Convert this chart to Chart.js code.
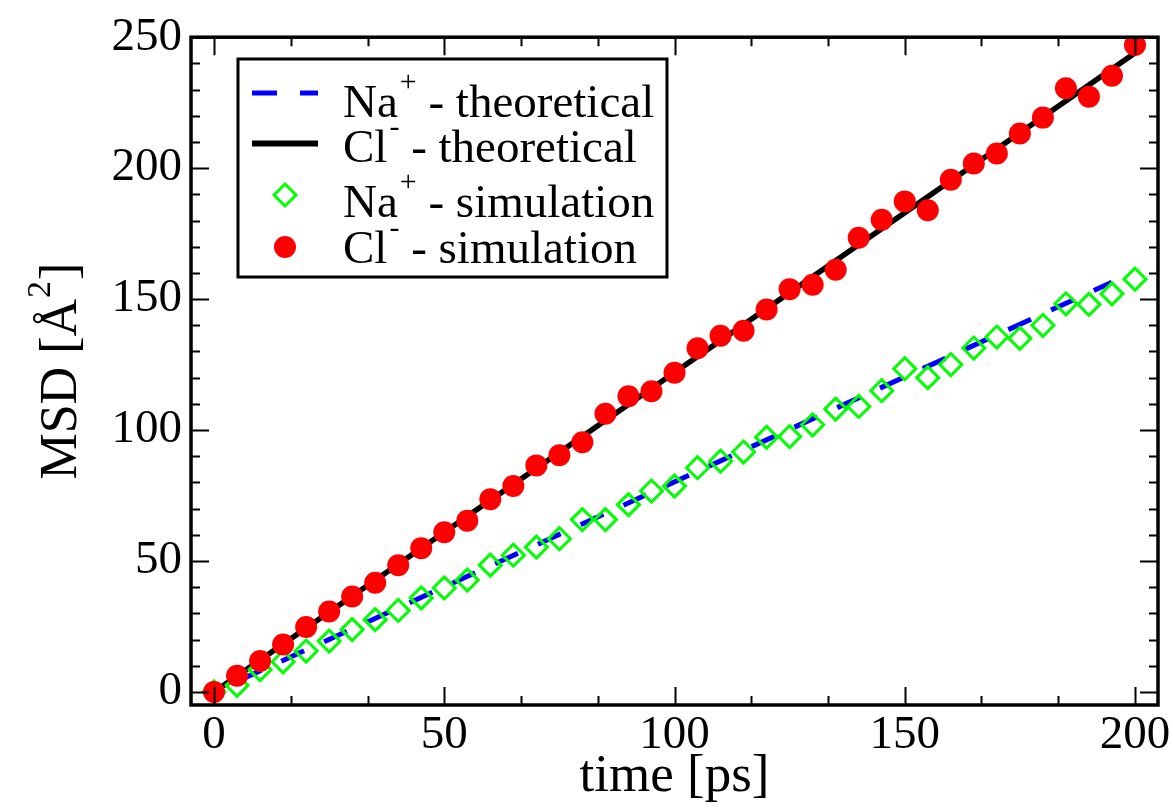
<!DOCTYPE html>
<html>
<head>
<meta charset="utf-8">
<script src="https://cdn.jsdelivr.net/npm/chart.js@4.4.1/dist/chart.umd.min.js"></script>
<style>
  body { margin: 0; background: #fff; }
  #wrap { width: 1173px; height: 810px; }
</style>
</head>
<body>
<div id="wrap"><canvas id="msdChart" width="1173" height="810"></canvas></div>
<script>
// DATA
const times = [0, 5, 10, 15, 20, 25, 30, 35, 40, 45, 50, 55, 60, 65, 70, 75, 80, 85, 90, 95, 100,
  105, 110, 115, 120, 125, 130, 135, 140, 145, 150, 155, 160, 165, 170, 175, 180, 185, 190, 195, 200];
const clSim = [0, 6.2, 11.8, 18.1, 24.8, 30.7, 36.4, 41.7, 48.4, 54.9, 61.0, 65.4, 73.6, 78.6, 86.5, 90.4,
  95.3, 106.2, 112.9, 114.8, 121.9, 131.2, 136.0, 137.9, 146.0, 153.8, 155.5, 161.2, 173.4, 180.3, 187.3,
  183.9, 195.6, 201.8, 205.6, 213.2, 219.3, 230.5, 227.3, 235.3, 247.0];
const naSim = [0, 2.5, 8.5, 11.5, 15.6, 19.4, 23.8, 27.6, 31.1, 35.9, 39.7, 42.7, 48.4, 52.2, 55.3, 58.5,
  65.8, 65.8, 71.5, 76.7, 78.6, 85.6, 88.1, 91.6, 97.2, 97.5, 102.0, 108.0, 109.0, 115.0, 123.4,
  120.0, 125.0, 131.3, 135.5, 135.0, 140.0, 148.2, 148.0, 152.0, 157.6];
const clTheoryT = [0, 200];
const clTheory = [0, 244];
const naTheoryT = [0, 195];
const naTheory = [0, 156.4];

const xTicks = [0, 50, 100, 150, 200];
const yTicks = [0, 50, 100, 150, 200, 250];

const xTitle = 'time [ps]';
const yTitle = { main: 'MSD [Å', sup: '2', tail: ']' };

const legendRows = [
  { main: 'Na', sup: '+', rest: ' - theoretical', kind: 'dash' },
  { main: 'Cl', sup: '-', rest: ' - theoretical', kind: 'line' },
  { main: 'Na', sup: '+', rest: ' - simulation', kind: 'diamond' },
  { main: 'Cl', sup: '-', rest: ' - simulation', kind: 'circle' }
];

const SERIF = '"Liberation Serif", "Times New Roman", serif';
Chart.defaults.font.family = SERIF;
Chart.defaults.color = '#000';

function pts(xs, ys) {
  return xs.map((x, i) => ({ x: x, y: ys[i] }));
}

// frame + inward ticks on all four sides
const framePlugin = {
  id: 'frame',
  afterDatasetsDraw(chart) {
    const { ctx, chartArea: a, scales: { x, y } } = chart;
    ctx.save();
    ctx.strokeStyle = '#000';
    ctx.lineWidth = 2;
    ctx.beginPath();
    for (let i = 0; i <= 12; i++) {
      const v = i * 50 / 3;
      const px = Math.round(x.getPixelForValue(v)) + 0.5;
      const len = (i % 3 === 0) ? 18 : 9;
      ctx.moveTo(px, a.bottom); ctx.lineTo(px, a.bottom - len);
      ctx.moveTo(px, a.top); ctx.lineTo(px, a.top + len);
    }
    for (let v = 0; v <= 250; v += 10) {
      const py = Math.round(y.getPixelForValue(v)) + 0.5;
      const len = (v % 50 === 0) ? 18 : 9;
      ctx.moveTo(a.left, py); ctx.lineTo(a.left + len, py);
      ctx.moveTo(a.right, py); ctx.lineTo(a.right - len, py);
    }
    ctx.stroke();
    ctx.lineWidth = 3.5;
    ctx.strokeRect(a.left, a.top, a.right - a.left, a.bottom - a.top);
    ctx.restore();
  }
};

// y title with a real superscript, rotated
const yTitlePlugin = {
  id: 'yTitle',
  afterDraw(chart) {
    const ctx = chart.ctx;
    const a = chart.chartArea;
    ctx.save();
    ctx.fillStyle = '#000';
    ctx.textBaseline = 'alphabetic';
    ctx.textAlign = 'left';
    ctx.translate(76, (a.top + a.bottom) / 2);
    ctx.rotate(-Math.PI / 2);
    ctx.font = '52px ' + SERIF;
    const w1 = ctx.measureText(yTitle.main).width;
    const w3 = ctx.measureText(yTitle.tail).width;
    ctx.font = '34px ' + SERIF;
    const w2 = ctx.measureText(yTitle.sup).width;
    let tx = -(w1 + w2 + w3 + 2) / 2;
    ctx.font = '52px ' + SERIF;
    ctx.fillText(yTitle.main, tx, 0);
    tx += w1 + 1;
    ctx.font = '34px ' + SERIF;
    ctx.fillText(yTitle.sup, tx, -26);
    tx += w2 + 1;
    ctx.font = '52px ' + SERIF;
    ctx.fillText(yTitle.tail, tx, 0);
    ctx.restore();
  }
};

// legend box like the original
const legendPlugin = {
  id: 'boxLegend',
  afterDraw(chart) {
    const ctx = chart.ctx;
    const box = { x: 238, y: 59, w: 429, h: 218 };
    const markY = [93, 143.5, 195, 247];
    const baseY = [117, 162, 217, 263];
    ctx.save();
    ctx.fillStyle = '#fff';
    ctx.fillRect(box.x, box.y, box.w, box.h);
    ctx.strokeStyle = '#000';
    ctx.lineWidth = 3;
    ctx.strokeRect(box.x, box.y, box.w, box.h);

    legendRows.forEach((r, i) => {
      const my = markY[i];
      ctx.save();
      if (r.kind === 'dash') {
        ctx.strokeStyle = '#0000ff'; ctx.lineWidth = 5; ctx.setLineDash([25, 23]);
        ctx.beginPath(); ctx.moveTo(252, my); ctx.lineTo(318, my); ctx.stroke();
      } else if (r.kind === 'line') {
        ctx.strokeStyle = '#000'; ctx.lineWidth = 6;
        ctx.beginPath(); ctx.moveTo(252, my); ctx.lineTo(318, my); ctx.stroke();
      } else if (r.kind === 'diamond') {
        ctx.strokeStyle = '#00ff00'; ctx.lineWidth = 3;
        ctx.beginPath();
        ctx.moveTo(285 - 11, my); ctx.lineTo(285, my - 11); ctx.lineTo(285 + 11, my); ctx.lineTo(285, my + 11);
        ctx.closePath(); ctx.stroke();
      } else {
        ctx.fillStyle = '#ff0000';
        ctx.beginPath(); ctx.arc(285, my, 11, 0, Math.PI * 2); ctx.fill();
      }
      ctx.restore();

      ctx.fillStyle = '#000';
      ctx.textBaseline = 'alphabetic';
      ctx.textAlign = 'left';
      let tx = 343;
      ctx.font = '47px ' + SERIF;
      ctx.fillText(r.main, tx, baseY[i]);
      tx += ctx.measureText(r.main).width + 2;
      ctx.font = '30px ' + SERIF;
      ctx.fillText(r.sup, tx, baseY[i] - 26);
      tx += ctx.measureText(r.sup).width;
      ctx.font = '47px ' + SERIF;
      ctx.fillText(r.rest, tx, baseY[i]);
    });
    ctx.restore();
  }
};

const data = {
  datasets: [
    {
      label: 'Cl- simulation',
      data: pts(times, clSim),
      showLine: false,
      pointStyle: 'circle',
      pointRadius: 11,
      pointBackgroundColor: '#ff0000',
      pointBorderWidth: 0,
      order: 0
    },
    {
      label: 'Na+ simulation',
      data: pts(times, naSim),
      showLine: false,
      pointStyle: 'rectRot',
      pointRadius: 11,
      pointBackgroundColor: 'rgba(0,0,0,0)',
      pointBorderColor: '#00ff00',
      pointBorderWidth: 3,
      order: 1
    },
    {
      label: 'Na+ theoretical',
      data: pts(naTheoryT, naTheory),
      showLine: true,
      borderColor: '#0000ff',
      borderWidth: 5,
      borderDash: [25, 22],
      borderDashOffset: 20,
      pointRadius: 0,
      order: 2
    },
    {
      label: 'Cl- theoretical',
      data: pts(clTheoryT, clTheory),
      showLine: true,
      borderColor: '#000',
      borderWidth: 5.5,
      pointRadius: 0,
      order: 3
    }
  ]
};

const config = {
  type: 'scatter',
  data: data,
  options: {
    responsive: false,
    animation: false,
    events: [],
    layout: { padding: { top: 32, right: 15, left: 0, bottom: 0 } },
    plugins: {
      legend: { display: false },
      tooltip: { enabled: false }
    },
    scales: {
      x: {
        type: 'linear',
        min: -5,
        max: 205,
        afterBuildTicks: (s) => { s.ticks = xTicks.map(v => ({ value: v })); },
        afterFit: (s) => { s.height = 105; },
        grid: { display: false, drawTicks: false },
        border: { display: false },
        ticks: { font: { size: 47 }, padding: 2, maxRotation: 0, color: '#000' },
        title: { display: true, text: xTitle, font: { size: 53 }, padding: { top: 0, bottom: 1 }, color: '#000' }
      },
      y: {
        type: 'linear',
        min: -5,
        max: 250,
        afterBuildTicks: (s) => { s.ticks = yTicks.map(v => ({ value: v })); },
        afterFit: (s) => { s.width = 191; },
        grid: { display: false, drawTicks: false },
        border: { display: false },
        ticks: { font: { size: 47 }, padding: 9, color: '#000' },
        title: { display: false }
      }
    }
  },
  plugins: [framePlugin, yTitlePlugin, legendPlugin]
};

var msdChart = new Chart(document.getElementById('msdChart'), config);
</script>
</body>
</html>
